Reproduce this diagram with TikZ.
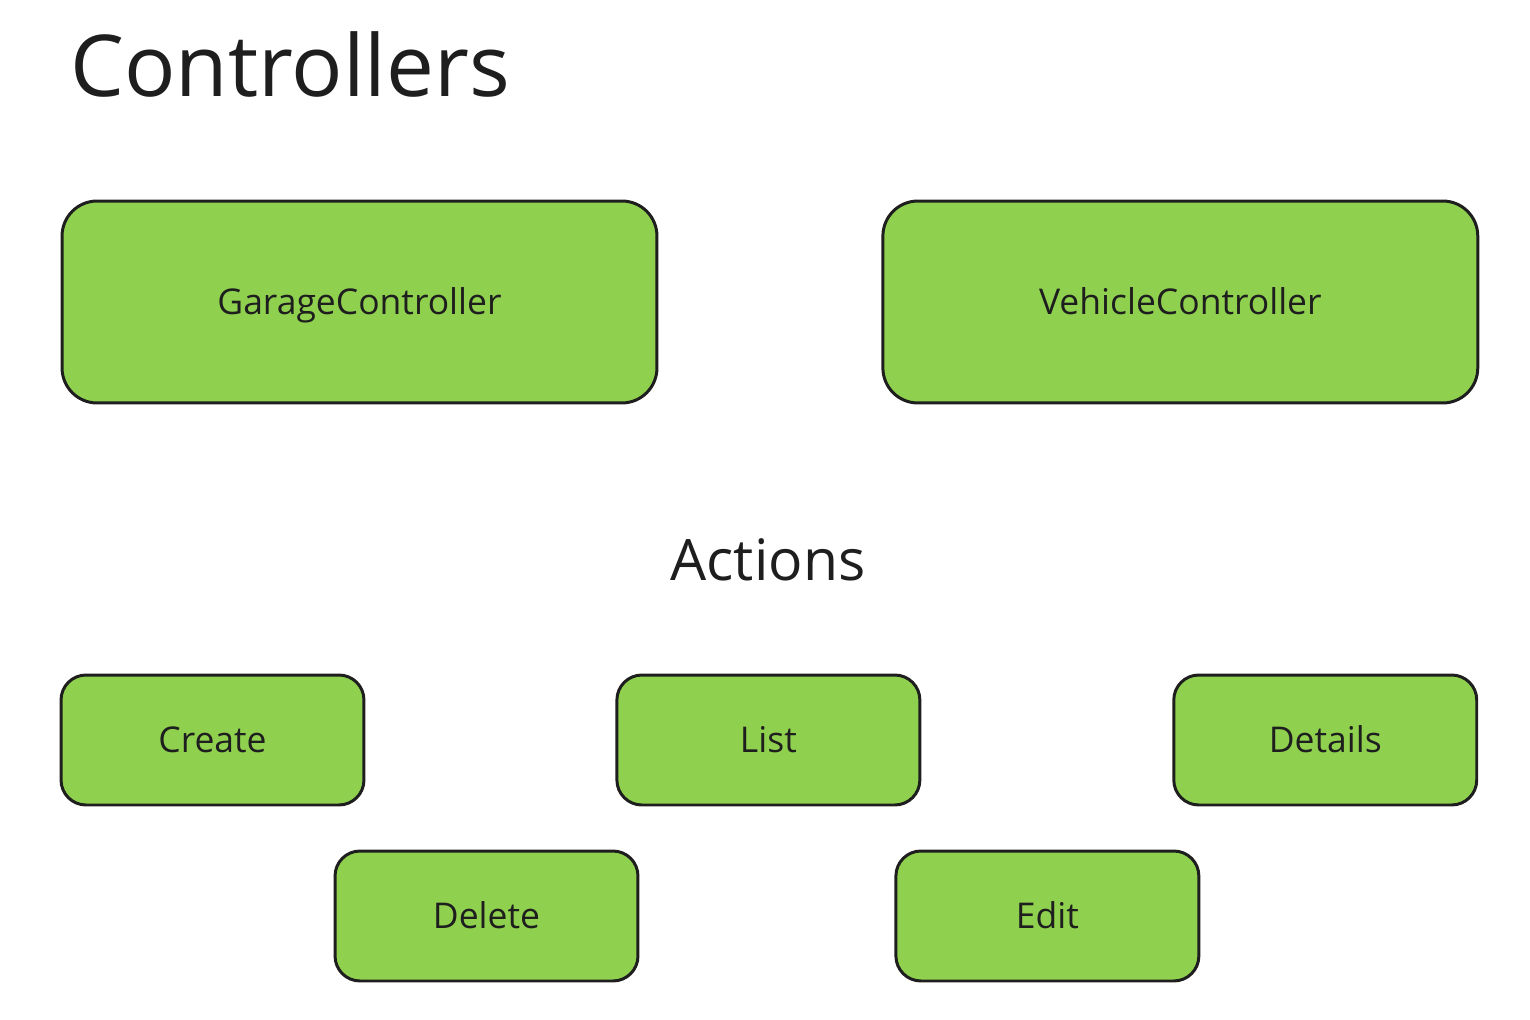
\documentclass[tikz,border=0pt]{standalone}
\usepackage{fontspec}
\setmainfont{Open Sans}
\usetikzlibrary{positioning}
\definecolor{boxgreen}{HTML}{8FD14F}
\definecolor{inkgray}{HTML}{1E1E1E}
\tikzset{
  ctrlbox/.style={draw=inkgray, fill=boxgreen, line width=1.7pt, rounded corners=0.7cm,
    minimum width=11.9cm, minimum height=4.04cm, text=inkgray,
    text height=14.4pt, text depth=0pt,
    font=\fontsize{20.2}{24}\selectfont},
  actbox/.style={ctrlbox, rounded corners=0.5cm, minimum width=6.06cm, minimum height=2.6cm},
}

\begin{document}
\begin{tikzpicture}[x=0.02cm, y=-0.02cm]
    \useasboundingbox (0,0) rectangle (1530,1020);
    % headings
    \node (title) [anchor=base west, inner sep=0, text=inkgray, font=\fontsize{48.6}{56}\selectfont] at (70,97) {Controllers};
    \node (actions) [anchor=base, inner sep=0, text=inkgray, font=\fontsize{32.5}{38}\selectfont] at (768,580) {Actions};
    % controllers
    \node (garage) [ctrlbox] at (359.5,302) {GarageController};
    \node (vehicle) [ctrlbox, right=4.46cm of garage] {VehicleController};
    % actions
    \node (create) [actbox] at (212.5,740) {Create};
    \node (list) [actbox, right=5.0cm of create] {List};
    \node (details) [actbox, right=5.02cm of list] {Details};
    \node (delete) [actbox] at (486.5,916) {Delete};
    \node (edit) [actbox, right=5.1cm of delete] {Edit};
\end{tikzpicture}
\end{document}
